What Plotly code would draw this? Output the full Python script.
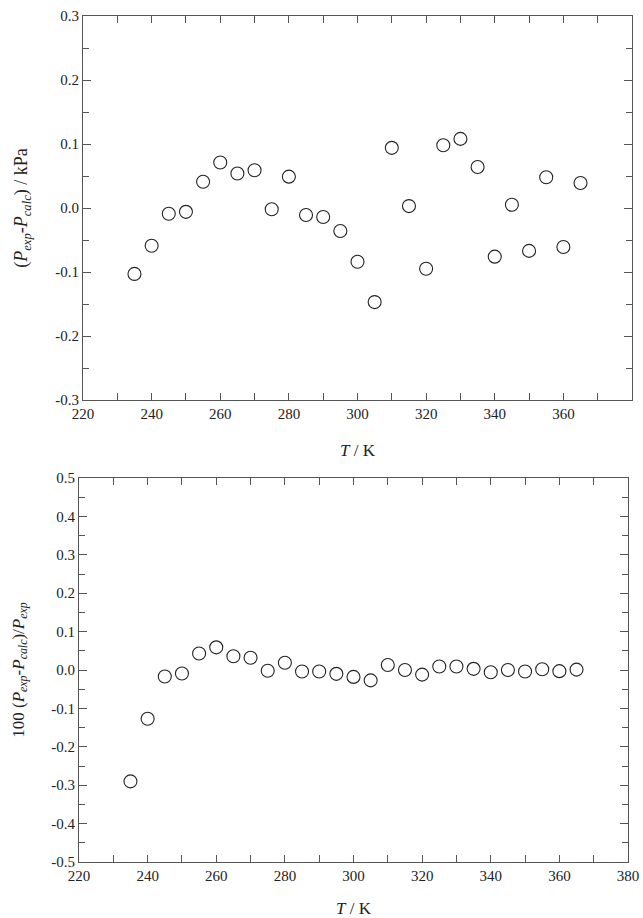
import plotly.graph_objects as go

T = [235, 240, 245, 250, 255, 260, 265, 270, 275, 280, 285, 290, 295, 300,
     305, 310, 315, 320, 325, 330, 335, 340, 345, 350, 355, 360, 365]

dP_kPa = [-0.103, -0.059, -0.009, -0.006, 0.041, 0.071, 0.054, 0.059, -0.002,
          0.049, -0.011, -0.014, -0.036, -0.084, -0.147, 0.094, 0.003, -0.095,
          0.098, 0.108, 0.064, -0.076, 0.005, -0.067, 0.048, -0.061, 0.039]

dP_rel = [-0.290, -0.127, -0.017, -0.009, 0.043, 0.059, 0.036, 0.032, -0.002,
          0.019, -0.004, -0.004, -0.010, -0.018, -0.027, 0.013, 0.000, -0.012,
          0.009, 0.009, 0.003, -0.006, 0.000, -0.004, 0.002, -0.003, 0.001]

x_ticks = [220, 240, 260, 280, 300, 320, 340, 360, 380]
y1_ticks = [-0.3, -0.2, -0.1, 0.0, 0.1, 0.2, 0.3]
y1_labels = ["-0.3", "-0.2", "-0.1", "0.0", "0.1", "0.2", "0.3"]
y2_ticks = [-0.5, -0.4, -0.3, -0.2, -0.1, 0.0, 0.1, 0.2, 0.3, 0.4, 0.5]
y2_labels = ["-0.5", "-0.4", "-0.3", "-0.2", "-0.1", "0.0", "0.1", "0.2", "0.3", "0.4", "0.5"]

FONT = "Liberation Serif"
LINE = "#555555"
TXT = "#222222"

marker = dict(symbol="circle-open", size=13, color=TXT, line=dict(width=1.1, color=TXT))

fig = go.Figure()
fig.add_trace(go.Scatter(x=T, y=dP_kPa, mode="markers", marker=marker,
                         xaxis="x", yaxis="y", showlegend=False))
fig.add_trace(go.Scatter(x=T, y=dP_rel, mode="markers", marker=marker,
                         xaxis="x2", yaxis="y2", showlegend=False))

def xaxis(domain, anchor, standoff):
    return dict(domain=domain, anchor=anchor, range=[220, 380], automargin=False,
                tickvals=x_ticks, ticktext=[str(v) for v in x_ticks],
                ticks="inside", ticklen=7, tickwidth=1, tickcolor=LINE,
                showline=True, linecolor=LINE, linewidth=1.2, mirror="allticks",
                showgrid=False, zeroline=False,
                minor=dict(dtick=10, tick0=220, ticks="inside", ticklen=7, tickwidth=1, tickcolor=LINE, showgrid=False),
                tickfont=dict(family=FONT, size=15, color=TXT),
                title=dict(text="<i>T</i> / K", font=dict(family=FONT, size=17, color=TXT), standoff=standoff))

def yaxis(domain, anchor, rng, tv, tt, title, size):
    return dict(domain=domain, anchor=anchor, range=rng, automargin=False,
                tickvals=tv, ticktext=tt,
                ticks="inside", ticklen=8, tickwidth=1, tickcolor=LINE,
                showline=True, linecolor=LINE, linewidth=1.2, mirror="allticks",
                showgrid=False, zeroline=False,
                minor=dict(dtick=0.05, tick0=0, ticks="inside", ticklen=6, tickwidth=1, tickcolor=LINE, showgrid=False),
                tickfont=dict(family=FONT, size=15, color=TXT),
                title=dict(text=title, font=dict(family=FONT, size=size, color=TXT), standoff=22))

fig.update_layout(
    width=643, height=918,
    margin=dict(l=79, r=11, t=16, b=56),
    paper_bgcolor="white", plot_bgcolor="white",
    font=dict(family=FONT, color=TXT),
    xaxis=xaxis([0.00723, 1.0], "y", 23),
    yaxis=yaxis([0.5461, 1.0], "x", [-0.3, 0.3], y1_ticks, y1_labels,
                "(<i>P</i><sub><i>exp</i></sub>-<i>P</i><sub><i>calc</i></sub>) / kPa", 18),
    xaxis2=xaxis([0.0, 0.99277], "y2", 21),
    yaxis2=yaxis([0.0, 0.4539], "x2", [-0.5, 0.5], y2_ticks, y2_labels,
                 "100 (<i>P</i><sub><i>exp</i></sub>-<i>P</i><sub><i>calc</i></sub>)/<i>P</i><sub><i>exp</i></sub>", 17),
)

fig.write_html("out.html", config={"displayModeBar": False},
               post_script="document.body.style.margin='0';document.body.style.overflow='hidden';")
